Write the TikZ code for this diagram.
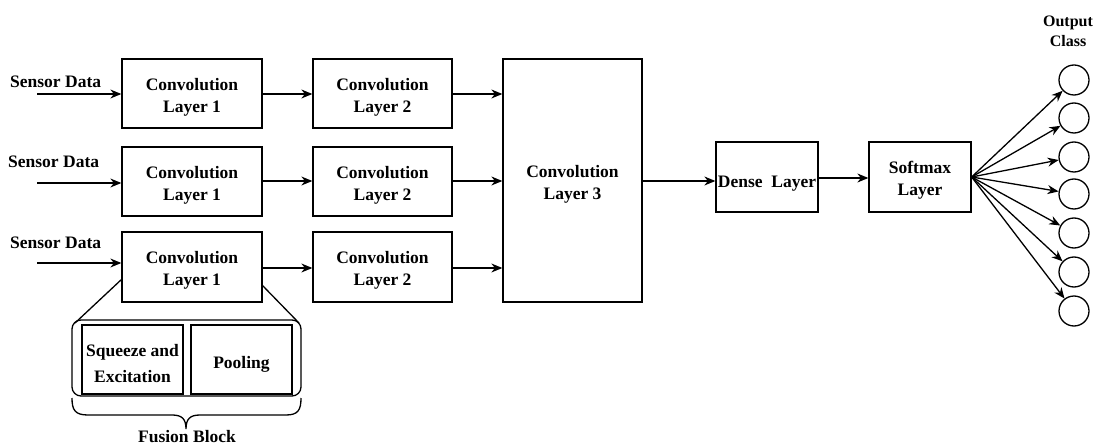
\documentclass[tikz,border=0pt]{standalone}
\usepackage{fontspec}
\setmainfont{Liberation Serif}
\usetikzlibrary{arrows.meta}
% taller first line, so that labels sit a little low in their boxes
\newcommand\topstrut[1][19pt]{\rule{0pt}{#1}}
\begin{document}
\begin{tikzpicture}[x=1pt,y=-1pt,
  font=\fontsize{17.5}{22}\selectfont\bfseries,
  box/.style={draw,line width=1.3pt,align=center,inner sep=0pt},
  arr/.style={-{Stealth[length=11pt,width=9pt]},line width=1.3pt},
  ln/.style={line width=1.3pt},
  cls/.style={draw,circle,line width=1.3pt,minimum size=30pt,inner sep=0pt}]
\useasboundingbox (0,0) rectangle (1102,446);
% first stage
\foreach \r/\ya/\yb in {1/59/128,2/147/216,3/232/302}{
  \node[box,minimum width=140pt,minimum height={\yb-\ya}] (c1\r) at (192,{(\ya+\yb)/2}) {\topstrut Convolution\\Layer 1};
  \node[box,minimum width=139pt,minimum height={\yb-\ya}] (c2\r) at (382.5,{(\ya+\yb)/2}) {\topstrut Convolution\\Layer 2};
}
\node[box,minimum width=139pt,minimum height=243pt] (c3) at (572.5,180.5) {\topstrut Convolution\\Layer 3};
\node[box,minimum width=102pt,minimum height=70pt] (dense) at (767,177) {\topstrut[24pt]Dense\ \ Layer};
\node[box,minimum width=102pt,minimum height=70pt] (soft) at (920,177) {\topstrut Softmax\\Layer};
% inputs
\node[anchor=west,inner sep=0pt] (s1) at (10,82) {Sensor Data};
\node[anchor=west,inner sep=0pt] (s2) at (8,162) {Sensor Data};
\node[anchor=west,inner sep=0pt] (s3) at (10,243) {Sensor Data};
\coordinate (i1) at (37,94);
\coordinate (i2) at (37,183);
\coordinate (i3) at (37,263);
\draw[arr] (i1) -- (i1 -| c11.west);
\draw[arr] (i2) -- (i2 -| c12.west);
\draw[arr] (i3) -- (i3 -| c13.west);
% links between layers
\foreach \r/\y in {1/94,2/181,3/268}{
  \draw[arr] (c1\r.east |- 0,\y) -- (c2\r.west |- 0,\y);
  \draw[arr] (c2\r.east |- 0,\y) -- (c3.west |- 0,\y);
}
\draw[arr] (c3.east |- 0,181) -- (dense.west |- 0,181);
\draw[arr] (dense.east |- 0,178) -- (soft.west |- 0,178);
% output classes
\node[font=\fontsize{16}{20}\selectfont\bfseries] (oc) at (1068,33) {\begin{tabular}{@{}c@{}}Output\\[0pt]Class\end{tabular}};
\coordinate (f) at (soft.east);
\foreach \i/\y in {1/80,2/118,3/157,4/194,5/233,6/272,7/311}{
  \node[cls] (o\i) at (1074,\y) {};
  \draw[arr] (f) -- (o\i);
}
% fusion block detail
\node[draw,rounded corners=9pt,line width=1.3pt,minimum width=229pt,minimum height=76pt] (fb) at (186.5,358) {};
\node[box,minimum width=101pt,minimum height=69pt] (se) at (132.5,359.5) {\topstrut[20pt]Squeeze and\\[4pt]Excitation};
\node[box,minimum width=101pt,minimum height=69pt] (pool) at (241.5,359.5) {\topstrut[21pt]Pooling};
\coordinate (l1) at (122,279);
\coordinate (l2) at (262,285);
\draw[ln] (l1) -- (75,323);
\draw[ln] (l2) -- (299,323);
% brace under the fusion block
\draw[ln] (72,398) .. controls (72,410) and (75,415) .. (88,415) -- (172,415)
  .. controls (182,415) and (186,419) .. (186,429)
  .. controls (186,419) and (190,415) .. (200,415) -- (286,415)
  .. controls (298,415) and (301,410) .. (301,398);
\node (fl) at (187,437) {Fusion Block};
\end{tikzpicture}
\end{document}
